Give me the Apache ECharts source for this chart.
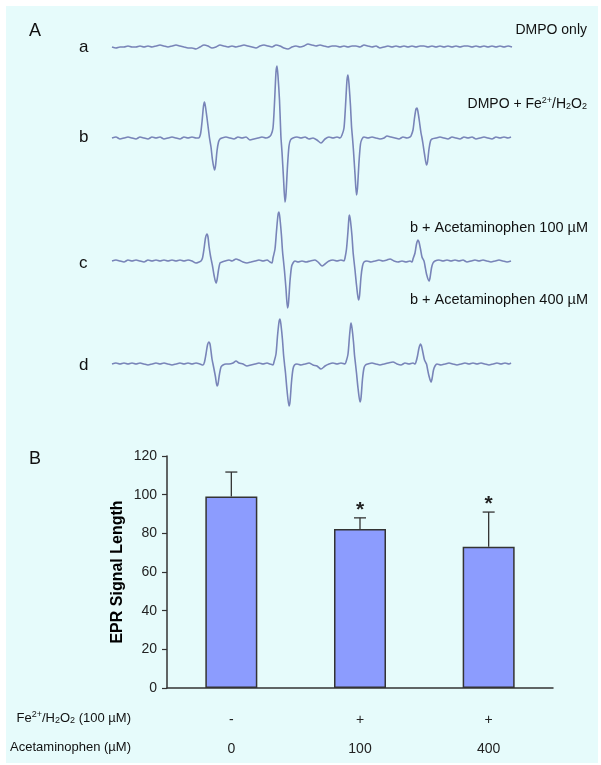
<!DOCTYPE html>
<html>
<head>
<meta charset="utf-8">
<script src="https://cdn.jsdelivr.net/npm/echarts/dist/echarts.min.js"></script>
<style>
  html, body { margin: 0; padding: 0; background: #fff; }
  #main { width: 601px; height: 765px; }
</style>
</head>
<body>
<div id="main"></div>
<script>
// EPR spectra: [field position, signal]
const traceA = [[0,0],[4,-1],[8,0],[12,0],[16,1],[20,0],[24,0],[28,1],[32,0],[36,1],[40,0],[44,1],[48,2],[52,1],[56,0],[60,1],[64,2],[68,1],[72,0],[76,-1],[80,-1],[84,-2],[88,0],[92,2],[96,1],[100,-1],[104,0],[108,2],[112,1],[116,0],[120,1],[124,0],[128,1],[132,2],[136,1],[140,0],[144,-1],[148,1],[152,2],[156,1],[160,0],[164,2],[168,1],[172,-1],[176,-2],[180,0],[184,1],[188,0],[192,1],[196,3],[200,2],[204,1],[208,2],[212,1],[216,0],[220,1],[224,1],[228,0],[232,1],[236,0],[240,1],[244,1],[248,0],[252,2],[256,1],[260,0],[264,1],[268,-1],[272,0],[276,1],[280,0],[284,1],[288,0],[292,1],[296,0],[300,1],[304,0],[308,1],[312,1],[316,0],[320,1],[324,0],[328,1],[332,0],[336,1],[340,0],[344,1],[348,0],[352,1],[356,1],[360,0],[364,1],[368,0],[372,1],[376,0],[380,1],[384,0],[388,1],[392,0],[396,1],[400,0]];

const traceB = [[0,0],[4,1],[8,-1],[12,0],[16,1],[20,0],[24,-1],[28,1],[32,0],[36,-1],[40,1],[44,0],[48,1],[52,-1],[56,0],[60,1],[64,0],[68,-1],[72,1],[76,0],[80,1],[84,0],
  [86.5,0],[88.5,4],[90,16],[91.5,32],[92.5,36],[93.5,31],[95,20],[96.5,8],[97.5,0],[99,-9],[100.5,-22],[102.5,-32],[103.5,-28],[105,-13],[106.5,-4],[108,-1],
  [110,0],[114,1],[118,0],[122,-1],[126,1],[130,0],[134,1],[138,-2],[142,-1],[146,0],[150,1],[154,0],[157,1],
  [159,3],[161,10],[162.5,35],[164,66],[165,72],[166,62],[167.5,38],[168.5,12],[169,0],[170,-14],[171.5,-40],[173,-64],[174,-56],[175.5,-28],[177,-8],[178.5,-2],
  [181,0],[185,1],[189,0],[193,1],[197,-1],[201,0],[205,-2],[209,-5],[213,-1],[217,1],[221,0],[225,1],[228,0],
  [230,3],[232,10],[233.5,32],[235,58],[236,63],[237,54],[238.5,32],[239.5,12],[240.5,0],[241.5,-13],[243,-36],[244.5,-57],[245.5,-50],[247,-24],[248.5,-6],[250,-1],
  [252,1],[256,0],[260,1],[264,0],[268,-1],[272,0],[275,2],[279,1],[283,0],[287,-1],[291,1],[295,0],[298,1],
  [299,2],[301,8],[302.5,20],[304,29],[305,30],[306,26],[307.5,16],[309,5],[310,0],[311,-6],[312.5,-16],[314.5,-27],[315.5,-24],[317,-11],[318.5,-3],[320,-1],
  [324,0],[328,1],[332,0],[336,-1],[340,1],[344,0],[348,-1],[352,1],[356,0],[360,1],[364,-1],[368,0],[372,1],[376,0],[380,-1],[384,1],[388,0],[392,1],[396,0],[399,1]];

const traceC = [[0,0],[4,1],[8,0],[12,-1],[16,1],[20,0],[24,1],[28,0],[32,-1],[36,1],[40,0],[44,1],[48,0],[52,1],[56,0],[60,1],[64,0],[68,1],[72,0],[76,1],[80,0],[84,-2],[87,-1],[89,0],
  [90.5,3],[92,12],[93.5,23],[95,27],[96,24],[97,15],[98.5,5],[99.5,0],[100.5,-5],[102,-14],[104,-22],[105,-19],[106.5,-9],[108,-2],[110,-1],
  [113,0],[117,1],[120,0],[124,2],[127,1],[131,-1],[135,-2],[139,-1],[143,0],[147,1],[151,0],[155,1],[158,-1],[160,-2],
  [161,3],[163,12],[164.5,30],[166,46],[167,49],[168,42],[169.5,25],[170.5,10],[171.5,0],[172.5,-10],[174,-28],[175.5,-47],[176.5,-42],[178,-20],[179.5,-6],[181,-2],
  [183,0],[186,-1],[190,0],[194,-1],[198,0],[203,1],[206,-1],[210,-5],[213,-3],[217,0],[221,1],[225,0],[229,1],[232,0],
  [233,3],[234.5,12],[236,30],[237,44],[237.5,46],[238.5,40],[240,25],[241,10],[242,0],[243,-9],[244.5,-24],[246.5,-39],[247.5,-35],[249,-16],[250.5,-5],[252,-1],
  [255,0],[259,-1],[263,0],[267,1],[271,0],[275,1],[278,2],[282,0],[286,-1],[290,0],[294,-1],[298,0],[300,-1],
  [301,2],[303,8],[304.5,17],[306,21],[307,19],[308.5,12],[310,4],[312,0],[313,-5],[314.5,-13],[317,-20],[318,-17],[319.5,-7],[321,-2],[323,0],
  [327,1],[331,0],[335,1],[339,0],[343,1],[347,0],[351,1],[355,-1],[359,0],[363,1],[367,0],[371,1],[375,0],[379,-1],[383,0],[387,1],[391,0],[395,-1],[399,0]];

const traceD = [[0,0],[4,1],[8,0],[12,1],[16,0],[20,1],[24,0],[28,1],[32,0],[36,-1],[40,0],[44,1],[48,0],[52,1],[56,0],[60,-1],[64,0],[68,1],[72,0],[76,1],[80,0],[84,1],[88,0],[91,-1],
  [92.5,2],[94,10],[95.5,19],[97,22],[98,20],[99,13],[100,5],[101,0],[102,-5],[103.5,-13],[105,-22],[106,-20],[107.5,-10],[109,-3],[111,-1],
  [114,0],[117,0],[121,1],[124,3],[127,1],[131,0],[135,-2],[139,-1],[143,0],[147,1],[151,0],[155,1],[158,0],[161,-1],
  [162,2],[164,10],[165.5,28],[167,42],[168,45],[169,39],[170.5,24],[171.5,10],[172.5,0],[173.5,-9],[175,-26],[177,-42],[178,-38],[179.5,-18],[181,-5],[182.5,-1],
  [185,0],[189,-1],[193,0],[197,1],[201,-1],[205,-2],[209,-5],[213,-2],[217,0],[221,1],[225,0],[229,1],[233,0],
  [234,2],[236,10],[237.5,28],[238.5,38],[239,41],[240,36],[241.5,22],[242.5,9],[243.5,0],[244.5,-9],[246,-24],[248,-38],[249,-34],[250.5,-15],[252,-4],[253.5,-1],
  [256,0],[260,1],[264,0],[268,-1],[272,0],[276,1],[281,2],[285,0],[289,-1],[293,1],[297,0],[301,1],[303,0],
  [304,2],[305.5,8],[307,16],[308.5,20],[309.5,18],[311,11],[312.5,4],[314.5,0],[315.5,-5],[317,-12],[319,-18],[320,-15],[321.5,-6],[323,-2],[325,0],
  [329,-1],[333,0],[337,1],[341,0],[345,-1],[349,0],[353,1],[357,0],[361,1],[365,0],[369,1],[373,0],[377,-1],[381,0],[385,1],[389,0],[393,1],[397,0],[399,1]];

const traceLetters = ['a', 'b', 'c', 'd'];

// panel B
const fentonRow = ['-', '+', '+'];
const acetRow = ['0', '100', '400'];
const signalLength = [99, 82.3, 73];
const signalErr = [12.7, 5.7, 18];
const significant = [0, 1, 1];

const lineColor = '#7884b8';
const font = '"Liberation Sans", Arial, sans-serif';

const chart = echarts.init(document.getElementById('main'));

// one hidden grid per spectrum, all at the same scale
const traceGrids = [
  { top: 27, height: 40, min: -20, max: 20 },
  { top: 58, height: 160, min: -80, max: 80 },
  { top: 181, height: 160, min: -80, max: 80 },
  { top: 284, height: 160, min: -80, max: 80 }
];
const traces = [traceA, traceB, traceC, traceD];

const grid = traceGrids.map(g => ({ left: 112, width: 400, top: g.top, height: g.height }));
grid.push({ left: 167, right: 48, top: 456, bottom: 77 });

const xAxis = traceGrids.map((g, i) => ({
  type: 'value', gridIndex: i, min: 0, max: 400, show: false
}));
xAxis.push({
  type: 'category', gridIndex: 4, data: fentonRow.map((f, i) => i),
  axisLine: { lineStyle: { color: '#333', width: 1.5 } },
  axisTick: { lineStyle: { color: '#333', width: 1.2 }, length: 5 },
  axisLabel: {
    margin: 18,
    formatter: i => '{r1|' + fentonRow[i] + '}\n{r2|' + acetRow[i] + '}',
    rich: {
      r1: { fontFamily: font, fontSize: 14, color: '#222', lineHeight: 29 },
      r2: { fontFamily: font, fontSize: 14, color: '#222', lineHeight: 29 }
    }
  }
});

const yAxis = traceGrids.map((g, i) => ({
  type: 'value', gridIndex: i, min: g.min, max: g.max, show: false
}));
yAxis.push({
  type: 'value', gridIndex: 4, min: 0, max: 120, interval: 20,
  name: 'EPR Signal Length', nameLocation: 'middle', nameGap: 41, nameMoveOverlap: false,
  nameTextStyle: { fontFamily: font, fontSize: 16, fontWeight: 'bold', color: '#000' },
  axisLine: { show: true, lineStyle: { color: '#333', width: 1.5 } },
  axisTick: { show: true, lineStyle: { color: '#333', width: 1.2 }, length: 5 },
  axisLabel: { fontFamily: font, fontSize: 14, color: '#222', margin: 10 },
  splitLine: { show: false }
});

const series = traces.map((t, i) => ({
  type: 'line', xAxisIndex: i, yAxisIndex: i, data: t,
  showSymbol: false, silent: true, animation: false, smooth: 0.25,
  lineStyle: { color: lineColor, width: 1.6 }
}));

series.push({
  type: 'bar', xAxisIndex: 4, yAxisIndex: 4, data: signalLength,
  barWidth: 52, animation: false,
  itemStyle: { color: '#8c9cfe', borderColor: '#333', borderWidth: 1.5 }
});

series.push({
  type: 'custom', xAxisIndex: 4, yAxisIndex: 4, animation: false, z: 5,
  data: signalLength.map((v, i) => [i, v, signalErr[i], significant[i]]),
  renderItem: (params, api) => {
    const base = api.coord([api.value(0), api.value(1)]);
    const top = api.coord([api.value(0), api.value(1) + api.value(2)]);
    const st = { stroke: '#333', lineWidth: 1.3 };
    const children = [
      { type: 'line', shape: { x1: base[0], y1: base[1], x2: top[0], y2: top[1] }, style: st },
      { type: 'line', shape: { x1: top[0] - 6, y1: top[1], x2: top[0] + 6, y2: top[1] }, style: st }
    ];
    if (api.value(3)) {
      children.push({
        type: 'text',
        style: { text: '*', x: top[0], y: top[1] + 3, align: 'center', verticalAlign: 'bottom',
          fontFamily: font, fontSize: 21, fontWeight: 'bold', fill: '#222' }
      });
    }
    return { type: 'group', children };
  }
});

const txt = (x, y, text, size, align, extra) => Object.assign({
  type: 'text', x, y,
  style: Object.assign({ text, fontFamily: font, fontSize: size, fill: '#111', align: align || 'left', verticalAlign: 'middle' }, extra || {})
});

const supSub = (size) => ({
  sup: { fontFamily: font, fontSize: 9, fill: '#111', verticalAlign: 'top', padding: [0, 0, 6, 0] },
  sub: { fontFamily: font, fontSize: 9, fill: '#111', padding: [6, 0, 0, 0] },
  n: { fontFamily: font, fontSize: size, fill: '#111' }
});

const graphic = [
  { type: 'rect', shape: { x: 6, y: 6, width: 592, height: 757 }, style: { fill: '#e6fbfb' }, z: -10 },
  txt(29, 31, 'A', 18),
  txt(29, 459, 'B', 18),
  txt(587, 30, 'DMPO only', 14, 'right'),
  txt(588, 228, 'b + Acetaminophen 100 \u00b5M', 14.5, 'right'),
  txt(588, 300, 'b + Acetaminophen 400 \u00b5M', 14.5, 'right'),
  {
    type: 'text', x: 587, y: 104,
    style: { text: '{n|DMPO + Fe}{sup|2+}{n|/H}{sub|2}{n|O}{sub|2}', rich: supSub(14), align: 'right', verticalAlign: 'middle' }
  },
  {
    type: 'text', x: 131, y: 718,
    style: { text: '{n|Fe}{sup|2+}{n|/H}{sub|2}{n|O}{sub|2}{n| (100 \u00b5M)}', rich: supSub(13), align: 'right', verticalAlign: 'middle' }
  },
  txt(131, 747, 'Acetaminophen (\u00b5M)', 13, 'right')
];
[47, 137, 263, 365].forEach((y, i) => graphic.push(txt(79, y, traceLetters[i], 17)));

chart.setOption({
  backgroundColor: '#fff',
  animation: false,
  grid, xAxis, yAxis, series, graphic
});
</script>
</body>
</html>
